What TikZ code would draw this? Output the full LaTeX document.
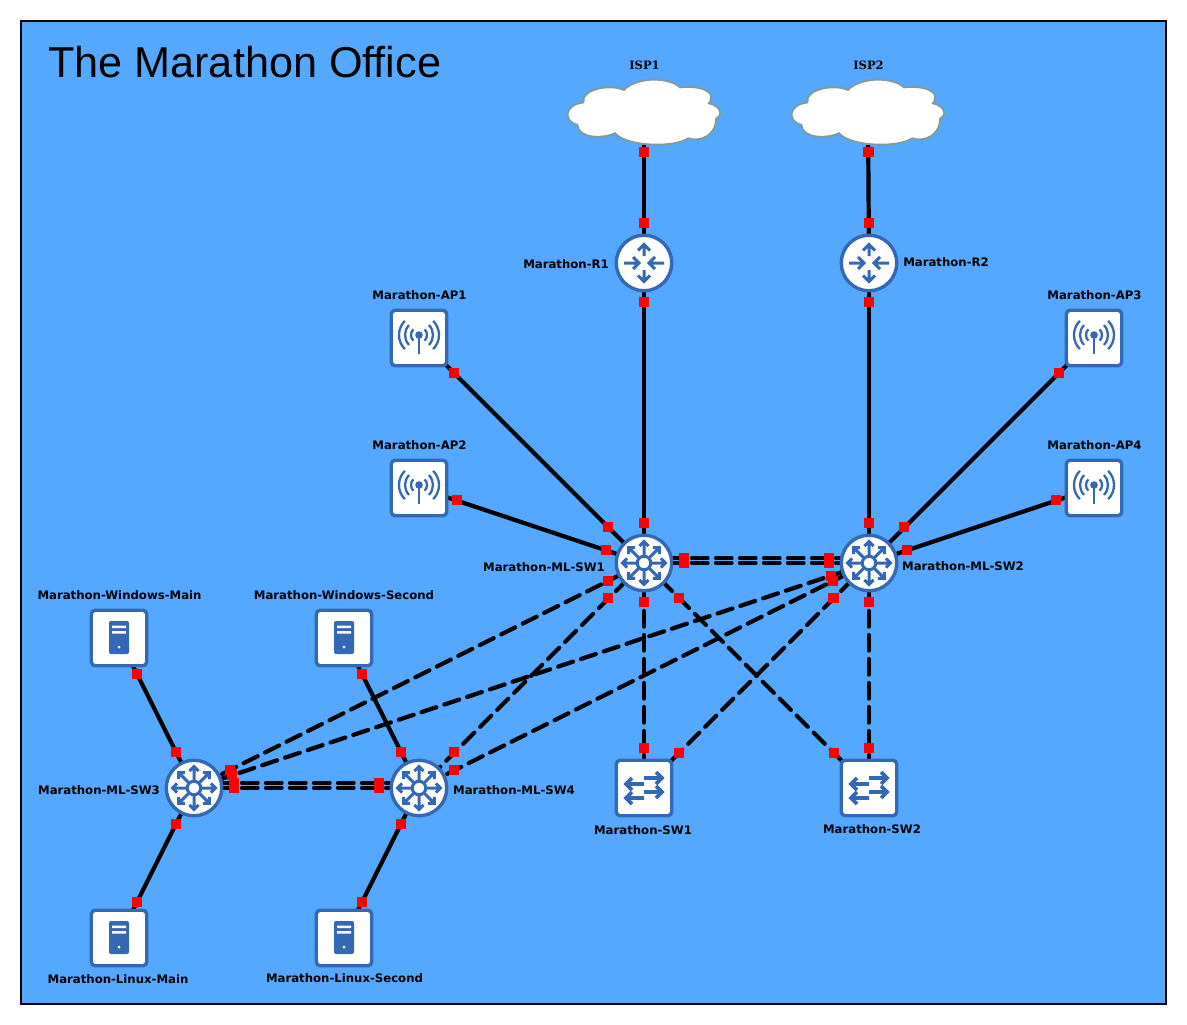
\documentclass[tikz,border=0pt]{standalone}
\usepackage{fontspec}
\setmainfont{Liberation Sans}
\newfontfamily\labelfont{DejaVu Sans}[Scale=1]
\newfontfamily\ispfont{DejaVu Serif}
\usetikzlibrary{backgrounds}
\definecolor{bgblue}{HTML}{55A8FF}
\definecolor{iconblue}{HTML}{3468B4}
\definecolor{cloudgray}{HTML}{7F9C9C}
\tikzset{
  x=1pt,y=-1pt,
  roundnode/.style={circle,draw=iconblue,fill=white,line width=3.4pt,minimum size=55.5pt,inner sep=0pt},
  squarenode/.style={rectangle,rounded corners=4pt,draw=iconblue,fill=white,line width=3.4pt,minimum size=55.5pt,inner sep=0pt},
  port/.style={rectangle,fill=red,minimum size=10.6pt,inner sep=0pt,outer sep=0pt},
  solidlink/.style={draw=black,line width=4.2pt},
  dashlink/.style={draw=black,line width=4.2pt,line cap=round,dash pattern=on 15.6pt off 8.4pt},
  devlabel/.style={font=\labelfont\bfseries\fontsize{11.7pt}{13pt}\selectfont,text=black,inner sep=0pt},
  ispname/.style={font=\ispfont\bfseries\fontsize{11.5pt}{13pt}\selectfont,text=black,inner sep=0pt},
  iconline/.style={draw=iconblue,line width=3pt,miter limit=10},
  apline/.style={draw=iconblue,line width=2.3pt},
}
\newcommand{\routericon}[1]{\begin{scope}[shift={(#1.center)}]
  \draw[iconline] (0,-7)--(0,-17) (-6,-12.5)--(0,-18.5)--(6,-12.5);
  \draw[iconline] (0,7)--(0,17) (-6,12.5)--(0,18.5)--(6,12.5);
  \draw[iconline] (-20,0)--(-7,0) (-11,-6)--(-5,0)--(-11,6);
  \draw[iconline] (20,0)--(7,0) (11,-6)--(5,0)--(11,6);
\end{scope}}
\newcommand{\mlicon}[1]{\begin{scope}[shift={(#1.center)}]
  \draw[iconblue,line width=3pt] (0,0) circle (6.8);
  \foreach \a in {0,45,...,315}
    \draw[iconline,rotate=\a] (8,0)--(20.5,0) (17,-4.6)--(21.6,0)--(17,4.6);
\end{scope}}
\newcommand{\apicon}[1]{\begin{scope}[shift={(#1.center)}]
  \fill[iconblue] (0,-3) circle (3.8);
  \draw[apline] (0,-3)--(0,16);
  \foreach \r in {8,14,20}{
    \draw[apline] (-\r*0.7071,-3-\r*0.7071) arc[start angle=135,end angle=225,radius=\r pt];
    \draw[apline] (\r*0.7071,-3-\r*0.7071) arc[start angle=45,end angle=-45,radius=\r pt];
  }
\end{scope}}
\newcommand{\servericon}[1]{\begin{scope}[shift={(#1.center)}]
  \fill[iconblue,rounded corners=2pt] (-10,-17) rectangle (10,16);
  \fill[white] (-7,-12.5) rectangle (7,-10) (-7,-7) rectangle (7,-4.5);
  \fill[white] (0,9) circle (1.5);
\end{scope}}
\newcommand{\switchicon}[1]{\begin{scope}[shift={(#1.center)}]
  \draw[iconline,line width=3.6pt] (0,-10)--(16,-10) (12,-16)--(18,-10)--(12,-4);
  \draw[iconline,line width=3.6pt] (0,4)--(16,4) (12,-2)--(18,4)--(12,10);
  \draw[iconline,line width=3.6pt] (0,-4)--(-16,-4) (-12,-10)--(-18,-4)--(-12,2);
  \draw[iconline,line width=3.6pt] (0,10)--(-16,10) (-12,4)--(-18,10)--(-12,16);
\end{scope}}
\newcommand{\cloudshape}[1]{\begin{scope}[shift={(#1.center)},xshift=-84pt,yshift=62pt,x=0.3333pt,y=-0.3333pt]
  \draw[fill=white,draw=cloudgray,line width=2pt]
    (70,157) .. controls (62,118) and (150,100) .. (192,120)
    .. controls (225,82) and (325,78) .. (360,112)
    .. controls (420,105) and (475,125) .. (447,160)
    .. controls (490,170) and (485,200) .. (468,207)
    .. controls (470,255) and (420,278) .. (385,265)
    .. controls (340,295) and (200,290) .. (165,250)
    .. controls (125,268) and (55,265) .. (52,225)
    .. controls (10,215) and (10,165) .. (70,157) -- cycle;
\end{scope}}
\begin{document}
\begin{tikzpicture}
\useasboundingbox (0,0) rectangle (1187,1025);
\node[roundnode] (r1) at (644,263) {};
\node[roundnode] (r2) at (869,263) {};
\node[roundnode] (ml1) at (644,563) {};
\node[roundnode] (ml2) at (869,563) {};
\node[roundnode] (ml3) at (194,788) {};
\node[roundnode] (ml4) at (419,788) {};
\node[squarenode] (ap1) at (419,338) {};
\node[squarenode] (ap2) at (419,488) {};
\node[squarenode] (ap3) at (1094,338) {};
\node[squarenode] (ap4) at (1094,488) {};
\node[squarenode] (wm) at (119,638) {};
\node[squarenode] (ws) at (344,638) {};
\node[squarenode] (lm) at (119,938) {};
\node[squarenode] (ls) at (344,938) {};
\node[squarenode] (sw1) at (644,788) {};
\node[squarenode] (sw2) at (869,788) {};
\node[inner sep=0pt,minimum size=2pt] (isp1) at (644,112) {};
\node[inner sep=0pt,minimum size=2pt] (isp2) at (868,112) {};
\cloudshape{isp1}
\cloudshape{isp2}
\routericon{r1}\routericon{r2}
\mlicon{ml1}\mlicon{ml2}\mlicon{ml3}\mlicon{ml4}
\apicon{ap1}\apicon{ap2}\apicon{ap3}\apicon{ap4}
\servericon{wm}\servericon{ws}\servericon{lm}\servericon{ls}
\switchicon{sw1}\switchicon{sw2}
\begin{pgfonlayer}{background}
  \draw[black,line width=2pt,fill=bgblue] (21,21) rectangle (1166,1004);
  \draw[solidlink] (isp1.center)--(r1.center);
  \draw[solidlink] (isp2.center)--(r2.center);
  \draw[solidlink] (r1.center)--(ml1.center);
  \draw[solidlink] (r2.center)--(ml2.center);
  \draw[solidlink] (ap1.center)--(ml1.center);
  \draw[solidlink] (ap2.center)--(ml1.center);
  \draw[solidlink] (ap3.center)--(ml2.center);
  \draw[solidlink] (ap4.center)--(ml2.center);
  \draw[solidlink] (wm.center)--(ml3.center);
  \draw[solidlink] (ws.center)--(ml4.center);
  \draw[solidlink] (lm.center)--(ml3.center);
  \draw[solidlink] (ls.center)--(ml4.center);
  \draw[dashlink] (ml1.center)--(ml2.center);
  \draw[dashlink] ([yshift=5pt]ml1.center)--([yshift=5pt]ml2.center);
  \draw[dashlink] (ml3.center)--(ml4.center);
  \draw[dashlink] ([yshift=5pt]ml3.center)--([yshift=5pt]ml4.center);
  \draw[dashlink] (ml1.center)--(ml3.center);
  \draw[dashlink] (ml1.center)--(ml4.center);
  \draw[dashlink] (ml2.center)--(ml3.center);
  \draw[dashlink] (ml2.center)--(ml4.center);
  \draw[dashlink] (ml1.center)--(sw1.center);
  \draw[dashlink] (ml1.center)--(sw2.center);
  \draw[dashlink] (ml2.center)--(sw1.center);
  \draw[dashlink] (ml2.center)--(sw2.center);
\end{pgfonlayer}
\foreach \px/\py [count=\i] in {644/152,644/223,644/302,644/523,868.5/152,869/223,869/302,869/523,
  454/373,608/527,457/500,606/550,1059/373,904/527,1056/500,907/550,
  137/674,176/752,362/674,401/752,176/824,137/902,401/824,362/902,
  684/558,684/563,829/558,829/563,234/783,234/788,379/783,379/788,
  608/581,230/770,608/598,454/752,831/576,232/775,833/581,454/770,
  644/602,644/748,869/602,869/748,679/598,834/753,833.5/598,679/753}
  \node[port] (p\i) at (\px,\py) {};
\node[anchor=west,inner sep=0pt,font=\fontsize{43.2pt}{48pt}\selectfont,text=black] (title) at (48,62) {The Marathon Office};
\node[ispname] (lisp1) at (644.5,65) {ISP1};
\node[ispname] (lisp2) at (868.5,65) {ISP2};
\node[devlabel] (l1) at (566,264) {Marathon-R1};
\node[devlabel] (l2) at (946,262) {Marathon-R2};
\node[devlabel] (l3) at (419.5,295) {Marathon-AP1};
\node[devlabel] (l4) at (419.5,445) {Marathon-AP2};
\node[devlabel] (l5) at (1094.5,295) {Marathon-AP3};
\node[devlabel] (l6) at (1094.5,445) {Marathon-AP4};
\node[devlabel] (l7) at (544,567) {Marathon-ML-SW1};
\node[devlabel] (l8) at (963,566) {Marathon-ML-SW2};
\node[devlabel] (l9) at (119.5,595) {Marathon-Windows-Main};
\node[devlabel] (l10) at (344,595) {Marathon-Windows-Second};
\node[devlabel] (l11) at (99,790) {Marathon-ML-SW3};
\node[devlabel] (l12) at (514,790) {Marathon-ML-SW4};
\node[devlabel] (l13) at (643,830) {Marathon-SW1};
\node[devlabel] (l14) at (872,829) {Marathon-SW2};
\node[devlabel] (l15) at (118,979) {Marathon-Linux-Main};
\node[devlabel] (l16) at (344.5,978) {Marathon-Linux-Second};
\end{tikzpicture}
\end{document}
